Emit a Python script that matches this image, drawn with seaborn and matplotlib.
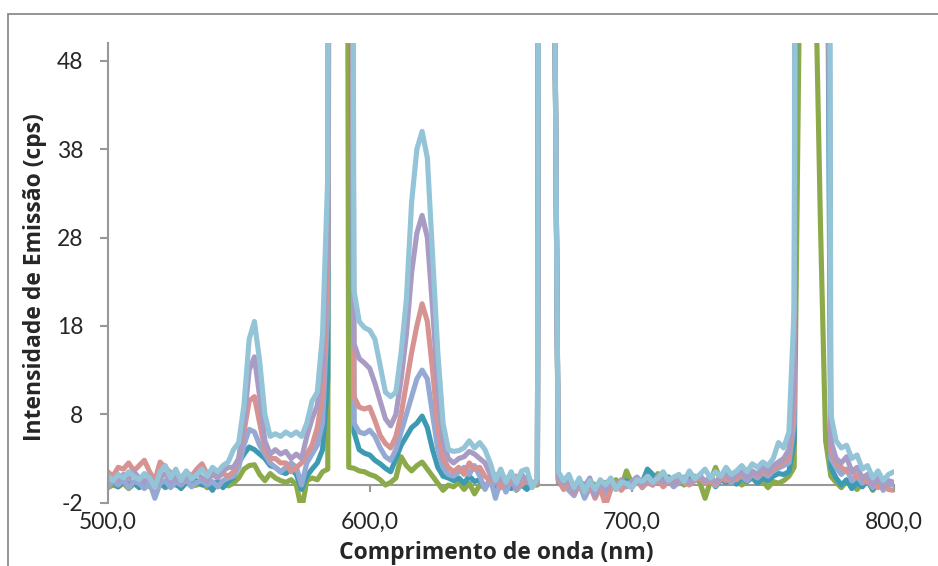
import matplotlib
matplotlib.use('Agg')
import numpy as np
import pandas as pd
import matplotlib.pyplot as plt
import matplotlib.patches as patches
import seaborn as sns

sns.set_style('white')
plt.rcParams['font.family'] = ['Lato', 'DejaVu Sans']
plt.rcParams['axes.unicode_minus'] = False

# wavelength grid (nm), 2 nm step
comprimento = list(range(500, 801, 2))

# series (cps); off-scale laser lines given as big values
# segments: 500-546 | 548-584 | 586-592 | 594-630 | 632-662 | 664-670 | 672-758 | 760-776 | 778-800
verde = [-0.3, 0.0, -0.2, 0.2, -0.4, 0.1, -0.1, 0.3, -0.2, 0.0, 0.2, -0.3, 0.1, 0.0, -0.2, 0.3, -0.1, 0.0, 0.2, -0.3, 0.1, -0.2, 0.3, -0.1,
         0.2, 0.8, 1.8, 2.2, 2.3, 1.2, 0.5, 1.3, 0.8, 0.5, 0.3, 0.6, 0.0, -2.8, 0.5, 0.8, 0.6, 1.5, 1.8,
         300, 300, 300, 2,
         1.9, 1.6, 1.5, 1.2, 1.0, 0.6, 0.0, 0.3, 0.8, 3.2, 2.2, 1.6, 2.2, 2.6, 1.8, 1.0, 0.2, -0.6, 0.0,
         -0.2, 0.3, -0.5, 0.2, -1.0, 0.0, -0.3, 0.4, -0.5, 0.2, -0.2, 0.3, -0.6, 0.1, 0.3, 0.0,
         0.0, 300, 300, 80,
         0.3, -0.2, 0.5, -0.5, 0.2, -0.7, 0.4, 0.0, -0.4, 0.3,
         -0.2, 0.6, -0.3, 1.6, 0.2, 0.8, -0.2, 0.5, 0.3, 1.3,
         0.6, 0.9, 0.2, 0.5, 0.0, 0.7, 1.0, 0.3, -1.5, 0.4,
         2.0, 0.5, 0.9, 0.2, 0.6, 0.0, 0.4, 0.8, 0.2, 0.5,
         -0.3, 0.4, 0.2, 0.5,
         1, 2, 55, 300, 300, 60, 30, 5, 1,
         0.3, -0.3, 0.4, 0.0, -0.5, 0.2, 0.6, -0.6, 0.3, -0.2, 0.0, 0.3]

petroleo = [0.0, 0.4, -0.2, 0.5, 0.1, 0.3, -0.3, 0.2, 0.6, 0.0, 0.3, -0.2, 0.4, 0.2, -0.4, 0.3, 0.1, 0.5, 0.0, 0.2, -0.6, 0.5, -0.3, 0.4,
            0.8, 2.5, 3.5, 4.3, 4.0, 3.5, 3.0, 2.2, 2.0, 1.5, 1.3, 1.8, 1.2, -0.5, 1.0, 1.8, 2.5, 4.0, 12,
            300, 300, 300, 120,
            6.0, 4.0, 3.6, 3.4, 2.8, 2.4, 1.9, 1.5, 3.0, 4.5, 5.5, 6.5, 7.0, 7.8, 6.5, 4.0, 2.0, 1.0, 0.8,
            0.5, 0.8, 0.2, 1.0, 0.4, 0.6, -0.2, 0.5, -0.3, 0.2, 0.6, -0.4, 0.3, 0.0, -0.5, 0.2,
            0.2, 300, 300, 80,
            0.6, -0.4, 0.3, -0.6, 0.4, 0.0, 0.5, -0.4, 0.2, 0.0,
            0.4, -0.2, 0.3, 0.5, 0.0, 0.8, 0.3, 1.8, 1.2, 0.5,
            0.2, 0.9, 0.4, 0.6, 0.3, 1.4, 0.5, 0.9, 0.2, 0.7,
            -0.2, 0.6, 0.3, 0.9, 0.1, 0.8, 0.4, 1.0, 0.2, 0.8,
            0.5, 1.0, 1.3, 1.2,
            1.5, 5, 150, 300, 300, 300, 300, 100, 2,
            0.8, 0.0, 0.6, -0.4, 0.3, -0.2, 0.5, -0.5, 0.2, -0.3, 0.4, 0.2]

lavanda = [-0.2, 0.5, 0.0, 0.6, -0.3, 0.4, 0.2, -0.4, 0.3, -1.5, 0.2, 0.5, -0.3, 0.4, 0.0, 0.6, -0.2, 0.3, 0.5, 0.0, 0.4, -0.2, 0.5, 0.8,
           1.0, 2.0, 4.5, 6.3, 6.0, 4.5, 3.5, 2.5, 2.0, 1.5, 2.0, 2.5, 2.0, 0.0, 2.5, 3.5, 4.5, 7.0, 20,
           300, 300, 300, 150,
           7.0, 6.0, 5.8, 6.2, 5.5, 4.2, 3.2, 2.8, 4.0, 6.0, 8.0, 10.0, 12.0, 13.0, 12.0, 8.0, 4.0, 2.0, 1.2,
           1.0, 1.5, 2.0, 1.2, 2.2, 1.0, -0.5, 0.8, -1.5, 0.5, -0.8, 0.6, -0.5, 0.2, 0.4, 0.0,
           0.3, 300, 300, 80,
           0.5, 0.0, -0.6, -1.2, 0.2, -1.5, -0.3, -0.8, 0.3, -1.0,
           0.1, -0.5, 0.4, -0.2, 0.2, 0.6, -0.3, 0.4, 0.0, 0.8,
           0.2, 0.5, -0.2, 0.3, 0.7, 0.1, 0.6, 0.9, 0.2, 0.5,
           -0.1, 0.7, 1.0, 0.3, 0.8, 1.0, 0.5, 1.2, 0.8, 1.4,
           1.0, 1.6, 1.9, 2.2,
           2.5, 7, 200, 300, 300, 300, 300, 120, 3,
           2.0, 1.2, 1.8, 0.5, 1.0, 0.2, 0.6, -0.3, 0.4, -0.6, 0.2, 0.0]

salmao = [1.5, 1.0, 2.0, 1.8, 2.5, 1.6, 2.2, 2.8, 1.5, 0.5, 2.6, 2.0, 1.4, 1.2, 0.8, 1.5, 1.0, 1.8, 2.4, 1.2, 1.6, 0.9, 1.3, 1.0,
          1.5, 3.0, 6.0, 9.5, 10.0, 7.0, 4.0, 3.0, 3.0, 2.5, 2.5, 1.5, 2.0, 2.5, 3.5, 4.5, 6.5, 10.0, 25,
          300, 300, 300, 180,
          10.0, 8.8, 8.6, 8.8, 7.3, 5.6, 4.7, 4.2, 5.5, 8.0, 11.5, 15.0, 18.0, 20.5, 18.5, 13.0, 6.5, 3.0, 2.0,
          1.5, 2.0, 1.2, 2.5, 1.8, 2.0, 1.0, 0.5, 1.2, -0.3, 0.8, 0.2, 1.0, 0.0, 0.8, 0.3,
          0.2, 300, 300, 80,
          0.8, -0.5, 0.3, -1.0, 0.2, -0.8, 0.0, -1.5, -0.3, -2.3,
          -0.5, 0.2, -0.6, 0.1, -0.3, 0.5, -0.2, 0.3, 0.0, 0.6,
          -0.2, 0.4, 0.1, 0.7, 0.3, 0.0, 0.5, 0.8, 0.2, 0.6,
          0.0, 0.9, 0.5, 1.0, 0.6, 1.2, 0.9, 1.4, 1.0, 1.6,
          1.3, 1.8, 2.2, 2.6,
          3, 9, 250, 300, 300, 300, 300, 150, 4,
          2.5, 2.0, 1.5, 1.8, 0.8, 1.0, 0.3, 0.5, -0.3, 0.2, -0.5, -0.6]

roxo = [0.3, 0.8, 0.5, 1.2, 0.6, 1.5, 0.8, 0.4, 1.0, -0.5, 0.8, 1.3, 0.5, 0.9, 0.2, 1.1, 0.6, 1.4, 0.8, 0.5, 1.2, 0.8, 1.6, 2.0,
        2.0, 3.0, 7.0, 13.0, 14.5, 10.0, 5.0, 3.5, 4.0, 3.5, 3.8, 3.0, 3.5, 3.0, 5.5, 7.5, 9.0, 14.0, 30,
        300, 300, 300, 200,
        16.0, 14.3, 13.8, 13.2, 11.5, 9.5, 7.5, 6.7, 8.0, 12.0, 17.0, 24.0, 28.5, 30.5, 28.0, 20.0, 11.0, 5.0, 3.0,
        2.5, 3.0, 3.2, 3.8, 3.5, 3.0, 2.5, 1.2, 0.2, 1.0, 0.0, 1.3, -0.5, 1.2, 0.5, 0.0,
        0.5, 300, 300, 80,
        1.0, 0.2, 0.6, -0.8, 0.3, -0.2, 0.8, -1.2, 0.4, -0.5,
        0.2, -0.3, 0.6, 0.0, 0.4, 0.9, 0.1, 0.6, 0.2, 1.0,
        0.3, 0.7, 0.0, 0.5, 0.9, 0.2, 0.8, 1.1, 0.4, 0.9,
        0.3, 1.0, 1.3, 0.6, 1.2, 1.5, 0.8, 1.6, 1.2, 2.0,
        1.5, 2.2, 2.6, 3.0,
        4, 12, 300, 300, 300, 300, 300, 200, 5,
        3.0, 2.5, 3.2, 1.5, 2.0, 0.8, 1.2, 0.0, 0.8, -0.2, 0.5, 0.3]

azul_claro = [1.0, 0.5, 1.2, 0.8, 1.5, 1.0, 0.6, 1.3, 0.8, -0.3, 1.5, 2.2, 0.8, 1.8, 0.5, 1.6, 0.7, 1.2, 1.8, 1.0, 2.0, 1.5, 2.2, 2.6,
              4.0, 4.8, 9.0, 16.5, 18.5, 14.0, 8.0, 5.5, 5.8, 5.5, 6.0, 5.6, 6.0, 5.5, 7.0, 9.5, 10.5, 17.0, 35,
              300, 300, 300, 250,
              22.0, 18.5, 17.8, 17.5, 16.5, 13.5, 10.5, 10.0, 10.5, 15.0, 21.0, 32.0, 38.0, 40.0, 37.0, 26.0, 15.0, 7.0, 4.0,
              3.8, 3.9, 4.2, 5.0, 4.2, 4.8, 4.0, 2.5, 0.5, 1.8, 0.3, 1.5, 0.2, 1.6, 1.8, -0.3,
              0.8, 300, 300, 80,
              1.5, 0.5, 1.2, -0.3, 0.8, -0.8, 0.5, -0.5, 0.6, 0.0,
              0.8, -0.5, 0.3, 0.2, -0.3, 0.6, 0.4, 1.0, 0.3, 0.8,
              1.5, 0.5, 0.9, 1.2, 0.4, 1.6, 0.7, 1.2, 1.8, 0.8,
              1.5, 1.0, 2.0, 1.2, 1.6, 2.2, 1.5, 2.4, 2.0, 2.6,
              2.2, 3.0, 4.8, 4.2,
              6, 20, 300, 300, 300, 300, 300, 300, 8,
              5.0, 4.2, 4.5, 3.0, 3.4, 1.8, 2.2, 0.8, 1.6, 0.5, 1.2, 1.5]

series = {'verde': verde, 'petroleo': petroleo, 'lavanda': lavanda,
          'salmao': salmao, 'roxo': roxo, 'azul_claro': azul_claro}
cores = {'verde': '#8DAA4B', 'petroleo': '#3D9AB3', 'lavanda': '#95A9D5',
         'salmao': '#D79391', 'roxo': '#A99CC4', 'azul_claro': '#93C4D7'}

for k, v in series.items():
    assert len(v) == len(comprimento), (k, len(v))

df = pd.concat([pd.DataFrame({'nm': comprimento, 'cps': v, 'serie': k}) for k, v in series.items()])

#%%
cinza = '#989898'
fig = plt.figure(figsize=(9.38, 5.66), dpi=100)
ax = fig.add_axes([0.1148, 0.1118, 0.838, 0.8122])

sns.lineplot(data=df, x='nm', y='cps', hue='serie', hue_order=list(series.keys()),
             palette=cores, linewidth=3.7, legend=False, errorbar=None, ax=ax,
             solid_joinstyle='round', solid_capstyle='round')

ax.set_xlim(500, 800)
ax.set_ylim(-2, 50)
ax.set_xticks([500, 600, 700, 800])
ax.set_xticklabels(['500,0', '600,0', '700,0', '800,0'])
ax.set_yticks([-2, 8, 18, 28, 38, 48])
ax.set_xlabel('')
ax.set_ylabel('')

for s in ['top', 'right']:
    ax.spines[s].set_visible(False)
ax.spines['left'].set_color(cinza)
ax.spines['left'].set_linewidth(1.5)
ax.spines['bottom'].set_color(cinza)
ax.spines['bottom'].set_linewidth(1.5)
ax.spines['bottom'].set_position(('data', 0))
ax.spines['bottom'].set_zorder(0.5)

ax.tick_params(axis='y', direction='out', length=6, width=1.5, color=cinza, pad=11.5, labelsize=16.5, left=True)
ax.tick_params(axis='x', direction='out', length=5, width=1.5, color=cinza, pad=14, labelsize=16.5, bottom=True)

fig.text(35 / 938, 1 - 277 / 566, 'Intensidade de Emissão (cps)', rotation=90,
         ha='center', va='center', fontsize=16.5, fontweight='bold', family=['Open Sans', 'DejaVu Sans'])
fig.text(496 / 938, 1 - 553 / 566, 'Comprimento de onda (nm)',
         ha='center', va='center', fontsize=16.5, fontweight='bold', family=['Open Sans', 'DejaVu Sans'])

# chart border
fig.patches.append(patches.Rectangle((8 / 938, -0.2), 1.5, 0.2 + 1 - 14 / 566, transform=fig.transFigure,
                                     fill=False, edgecolor='#8c8c8c', linewidth=1.3))

plt.savefig('out.png', dpi=100)
